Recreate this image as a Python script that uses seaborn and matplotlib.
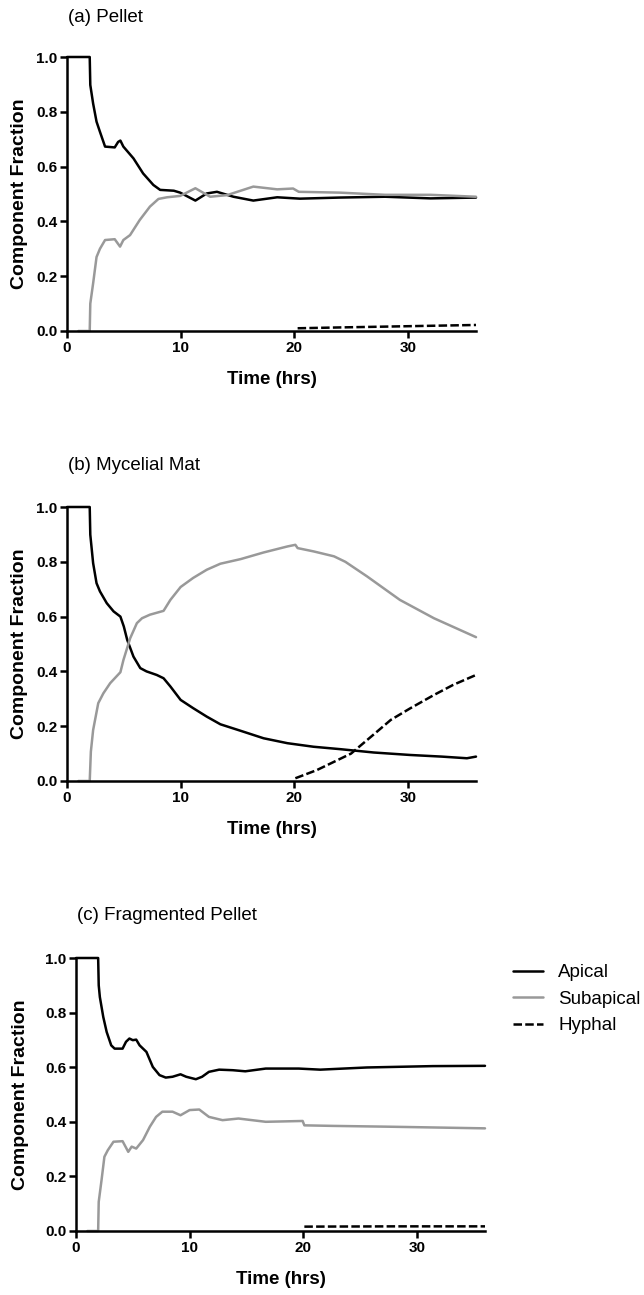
import matplotlib
matplotlib.use("Agg")
import matplotlib.pyplot as plt
import numpy as np
import pandas as pd
import seaborn as sns

# ----------------------------
# Data
# ----------------------------

# (a) Pellet
pellet_apical_t = [0, 2.0, 2.05, 2.3, 2.6, 2.9, 3.35, 4.2, 4.5, 4.7, 4.96, 5.85, 6.7, 7.6,
                   8.2, 9.4, 9.96, 11.3, 12.3, 13.2, 14.65, 16.4, 18.5, 20.5, 24, 28, 32, 36]
pellet_apical_f = [1.0, 1.0, 0.898, 0.83, 0.764, 0.727, 0.673, 0.67, 0.69, 0.695, 0.673, 0.63,
                   0.575, 0.533, 0.515, 0.512, 0.505, 0.476, 0.502, 0.508, 0.49, 0.476, 0.488,
                   0.483, 0.487, 0.49, 0.484, 0.487]
pellet_sub_t = [1.0, 2.0, 2.05, 2.3, 2.6, 2.9, 3.35, 4.2, 4.67, 4.96, 5.55, 6.4, 7.3, 8.05,
                8.8, 9.96, 11.3, 12.6, 14.1, 16.4, 18.5, 19.9, 20.4, 24, 28, 32, 36]
pellet_sub_f = [0, 0, 0.1, 0.174, 0.27, 0.30, 0.332, 0.335, 0.308, 0.332, 0.35, 0.405, 0.454,
                0.482, 0.488, 0.493, 0.521, 0.49, 0.496, 0.527, 0.517, 0.52, 0.508, 0.505,
                0.497, 0.497, 0.49]
pellet_hyph_t = [20.3, 24, 28, 32, 36]
pellet_hyph_f = [0.01, 0.013, 0.016, 0.019, 0.022]

# (b) Mycelial Mat
mat_apical_t = [0, 2.0, 2.05, 2.3, 2.6, 2.9, 3.5, 4.1, 4.7, 5.0, 5.3, 5.85, 6.45, 7.0, 7.9,
                8.5, 9.1, 10.0, 11.1, 12.3, 13.5, 15.3, 17.3, 19.4, 21.7, 24.1, 27, 30.2, 33,
                35.2, 36]
mat_apical_f = [1.0, 1.0, 0.899, 0.795, 0.722, 0.692, 0.649, 0.619, 0.6, 0.564, 0.515, 0.454,
                0.412, 0.4, 0.387, 0.375, 0.345, 0.296, 0.266, 0.235, 0.207, 0.183, 0.156,
                0.138, 0.125, 0.116, 0.104, 0.095, 0.089, 0.083, 0.089]
mat_sub_t = [1.0, 2.0, 2.1, 2.3, 2.75, 3.2, 3.8, 4.7, 4.97, 5.56, 6.15, 6.6, 7.3, 8.5, 9.1,
             10.0, 11.1, 12.3, 13.5, 15.3, 17.3, 19.4, 20.1, 20.3, 21.7, 23.5, 24.5, 26.4,
             29.3, 32.3, 36]
mat_sub_f = [0, 0, 0.107, 0.186, 0.284, 0.32, 0.357, 0.397, 0.442, 0.521, 0.576, 0.594,
             0.607, 0.621, 0.661, 0.708, 0.741, 0.771, 0.793, 0.81, 0.834, 0.856, 0.862,
             0.85, 0.838, 0.82, 0.80, 0.747, 0.661, 0.594, 0.525]
mat_hyph_t = [20.1, 22.0, 23.0, 25.0, 27.0, 28.5, 30.2, 32.3, 34, 36]
mat_hyph_f = [0.01, 0.04, 0.06, 0.10, 0.17, 0.223, 0.265, 0.314, 0.351, 0.387]

# (c) Fragmented Pellet
frag_apical_t = [0, 1.95, 2.0, 2.1, 2.4, 2.7, 3.1, 3.4, 4.1, 4.4, 4.7, 5.0, 5.3, 5.6, 6.2,
                 6.76, 7.35, 7.9, 8.5, 9.2, 9.7, 10.55, 11.1, 11.7, 12.6, 13.8, 14.9, 16.7,
                 19.6, 21.5, 25.6, 31.4, 36]
frag_apical_f = [1.0, 1.0, 0.9, 0.857, 0.784, 0.729, 0.68, 0.668, 0.668, 0.693, 0.705, 0.699,
                 0.701, 0.68, 0.656, 0.601, 0.571, 0.562, 0.565, 0.574, 0.565, 0.556, 0.565,
                 0.583, 0.591, 0.589, 0.585, 0.595, 0.595, 0.591, 0.599, 0.604, 0.605]
frag_sub_t = [1.0, 1.95, 2.0, 2.25, 2.5, 2.8, 3.3, 4.1, 4.6, 4.9, 5.3, 5.9, 6.5, 7.05, 7.6,
              8.5, 9.2, 10.0, 10.85, 11.7, 12.9, 14.3, 16.7, 19.95, 20.1, 22.6, 27.6, 36]
frag_sub_f = [0, 0, 0.107, 0.187, 0.272, 0.296, 0.327, 0.329, 0.29, 0.309, 0.302, 0.333,
              0.382, 0.418, 0.437, 0.437, 0.424, 0.443, 0.445, 0.418, 0.406, 0.412, 0.40,
              0.403, 0.387, 0.385, 0.382, 0.376]
frag_hyph_t = [20.1, 28, 36]
frag_hyph_f = [0.016, 0.017, 0.017]

panel_titles = ["(a) Pellet", "(b) Mycelial Mat", "(c) Fragmented Pellet"]
components = ["Apical", "Subapical", "Hyphal"]
x_ticks = [0, 10, 20, 30]
y_ticks = [0.0, 0.2, 0.4, 0.6, 0.8, 1.0]
y_tick_labels = ["0.0", "0.2", "0.4", "0.6", "0.8", "1.0"]

# ----------------------------
# Styling
# ----------------------------
sns.set_theme(style="ticks")
plt.rcParams["font.family"] = ["Liberation Sans", "DejaVu Sans"]
plt.rcParams["text.color"] = "black"
plt.rcParams["axes.labelcolor"] = "black"

LINE_W = 1.8
COLORS = {"Apical": "black", "Subapical": "#999999", "Hyphal": "black"}
STYLES = {"Apical": "-", "Subapical": "-", "Hyphal": (0, (3.4, 1.3))}

W, H = 644, 1295


def to_frame(series):
    rows = []
    for comp, (t, f) in zip(components, series):
        rows.append(pd.DataFrame({"time": t, "fraction": f, "component": comp}))
    return pd.concat(rows, ignore_index=True)


def px_axes(left, right, top, bottom):
    """Axes rectangle from pixel edges."""
    return [left / W, 1 - bottom / H, (right - left) / W, (bottom - top) / H]


def draw_panel(ax, df, ylab_x):
    for comp in components:
        sub = df[df["component"] == comp]
        sns.lineplot(data=sub, x="time", y="fraction", ax=ax, estimator=None, sort=False,
                     color=COLORS[comp], linestyle=STYLES[comp], lw=LINE_W,
                     label=comp, clip_on=False, legend=False)
    ax.set_xlim(0, 36)
    ax.set_ylim(0, 1.0)
    ax.set_xticks(x_ticks, labels=[str(v) for v in x_ticks], fontweight="bold")
    ax.set_yticks(y_ticks, labels=y_tick_labels, fontweight="bold")
    ax.tick_params(direction="out", length=5, width=LINE_W, labelsize=11, pad=2,
                   color="black", labelcolor="black")
    sns.despine(ax=ax)
    for side in ["left", "bottom"]:
        ax.spines[side].set_linewidth(LINE_W)
        ax.spines[side].set_color("black")
    ax.set_xlabel("Time (hrs)", fontsize=13.5, fontweight="bold")
    ax.set_ylabel("Component Fraction", fontsize=14, fontweight="bold")
    ax.xaxis.set_label_coords(0.5, -0.145)
    ax.yaxis.set_label_coords(ylab_x, 0.5)


fig = plt.figure(figsize=(W / 100, H / 100), dpi=100)

panels = [
    (to_frame([(pellet_apical_t, pellet_apical_f), (pellet_sub_t, pellet_sub_f),
               (pellet_hyph_t, pellet_hyph_f)]), px_axes(67, 476, 57, 331), -0.095, (68, 22)),
    (to_frame([(mat_apical_t, mat_apical_f), (mat_sub_t, mat_sub_f),
               (mat_hyph_t, mat_hyph_f)]), px_axes(67, 476, 507, 781), -0.095, (68, 470)),
    (to_frame([(frag_apical_t, frag_apical_f), (frag_sub_t, frag_sub_f),
               (frag_hyph_t, frag_hyph_f)]), px_axes(76, 485, 958, 1231), -0.115, (77, 920)),
]

axes = []
for (df, rect, ylab_x, (tx, ty)), title in zip(panels, panel_titles):
    ax = fig.add_axes(rect)
    draw_panel(ax, df, ylab_x)
    fig.text(tx / W, 1 - ty / H, title, fontsize=13.5, va="baseline", ha="left")
    axes.append(ax)

handles, labels = axes[2].get_legend_handles_labels()
fig.legend(handles, labels, loc="upper left", bbox_to_anchor=(513 / W, 1 - 964 / H),
           frameon=False, fontsize=13.5, handlelength=1.6, handletextpad=0.8,
           labelspacing=0.5, borderpad=0, borderaxespad=0)

fig.savefig("out.png", dpi=100)
